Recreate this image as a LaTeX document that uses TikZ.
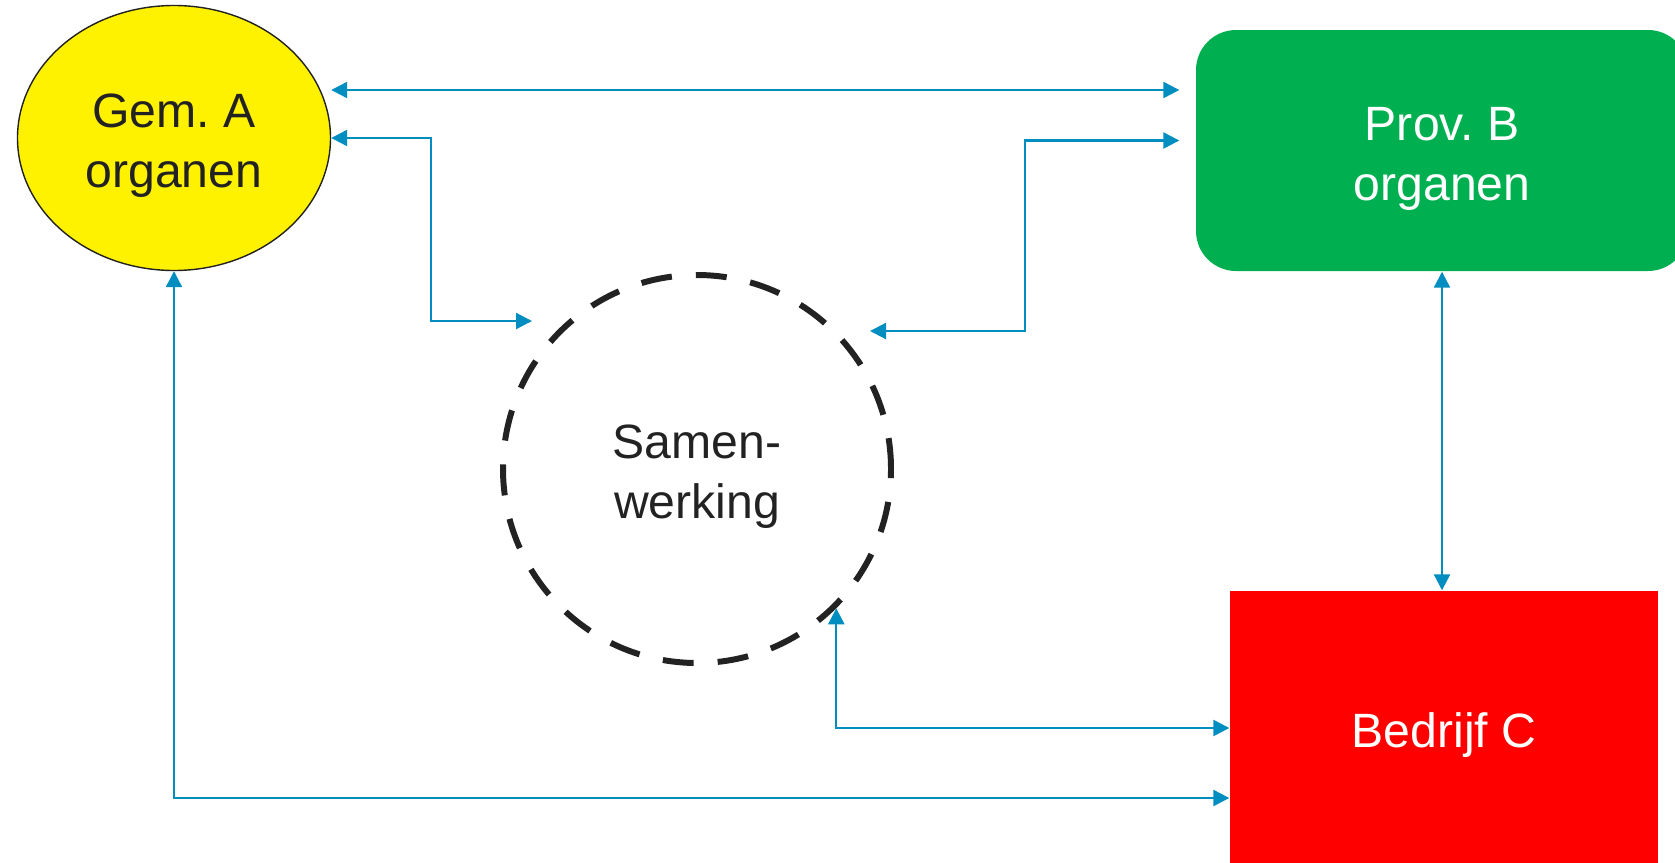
\documentclass[tikz,border=0pt]{standalone}
\usepackage{fontspec}
\setmainfont{Liberation Sans}
\usetikzlibrary{arrows.meta,shapes.geometric}

\definecolor{linkblue}{RGB}{0,142,192}
\definecolor{provgreen}{RGB}{0,176,80}
\definecolor{txtgrey}{RGB}{34,34,34}

\begin{document}
\frenchspacing
\begin{tikzpicture}[
	every node/.style={font=\fontsize{13.7}{17}\selectfont, align=center, execute at begin node={\rule{0pt}{4.8mm}}},
	twoline/.style={execute at begin node={\rule{0pt}{10.9mm}}},
	link/.style={draw=linkblue, line width=0.65pt, {Triangle[length=1.6mm,width=1.6mm]}-{Triangle[length=1.6mm,width=1.6mm]}}
	]
	\useasboundingbox (0,0) rectangle (16.75,8.62);
	
	\node[twoline, ellipse, draw=txtgrey, line width=0.4pt, fill=yellow, text=txtgrey, minimum width=3.13cm, minimum height=2.65cm] (gemA) at (1.74,7.24) {Gem. A\\organen};
	\node[twoline, rectangle, rounded corners=4mm, fill=provgreen, text=white, minimum width=4.92cm, minimum height=2.41cm] (provB) at (14.42,7.115) {Prov. B\\organen};
	\node[rectangle, fill=red, text=white, minimum width=4.28cm, minimum height=2.74cm] (bedrijf) at (14.44,1.34) {Bedrijf C};
	\node[twoline, circle, draw=txtgrey, line width=1.7pt, dash pattern=on 3.1mm off 2.4mm, text=txtgrey, minimum size=3.88cm] (samen) at (6.97,3.93) {Samen-\\werking};
	
	\coordinate (sA) at ([xshift=-16.5mm,yshift=14.8mm]samen.center);
	\coordinate (sB) at ([xshift=17.3mm,yshift=13.8mm]samen.center);
	
	\draw[link, shorten >=1.6mm] ([yshift=4.8mm]gemA.east) -- ([yshift=4.8mm]gemA.east -| provB.west);
	\draw[link] (gemA.east) -- ++(1,0) |- (sA);
	\draw[link, shorten >=1.6mm] (sB) -- ++(1.55,0) |- ([yshift=1mm]provB.west);
	\draw[link] (provB.south) -- (provB.south |- bedrijf.north);
	\draw[link] (samen.-45) |- (bedrijf.west);
	\draw[link] (gemA.south) |- ([yshift=-7mm]bedrijf.west);
	
\end{tikzpicture}
\end{document}
